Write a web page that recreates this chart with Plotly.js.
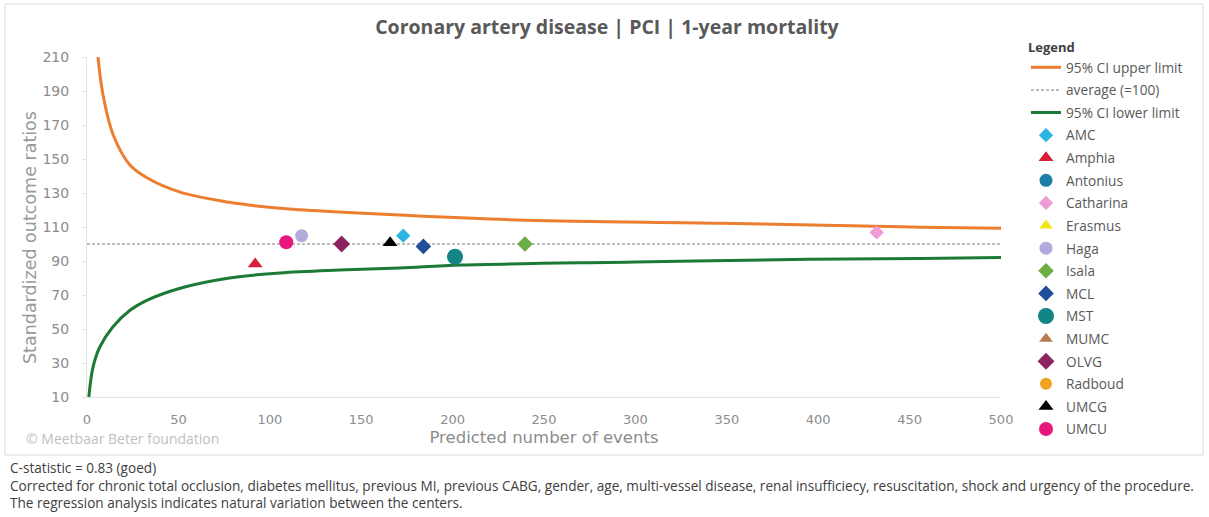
<!DOCTYPE html>
<html>
<head>
<meta charset="utf-8">
<script src="https://cdn.plot.ly/plotly-3.0.1.min.js"></script>
<style>
html,body{margin:0;padding:0;background:#fff;}
#chart{width:1209px;height:517px;}
</style>
</head>
<body>
<div id="chart"></div>
<script>
// ---- data ----
const upperX = [6, 8.8, 14.4, 23.5, 32.8, 51, 78, 105.6, 138, 171, 240, 347, 431, 456, 500];
const upperY = [210, 187.5, 164, 146.5, 139, 130.5, 124.5, 121, 118.8, 117, 114, 112.2, 110.4, 109.9, 109.3];
const lowerX = [1, 3.3, 7, 14, 23.5, 33, 51, 78, 105.6, 138, 171, 205, 300, 395, 456, 500];
const lowerY = [10, 27.6, 39.4, 51, 61, 67, 74, 80, 83, 84.7, 85.9, 87.6, 89.4, 91, 91.4, 92];
const averageX = [0, 500];
const averageY = [100, 100];

const centers = ["AMC","Amphia","Antonius","Catharina","Erasmus","Haga","Isala","MCL","MST","MUMC","OLVG","Radboud","UMCG","UMCU"];
const centerX  = [173, 92, null, 432, null, 117.4, 239.6, 184, 201.3, null, 139.3, null, 165.8, 109];
const centerY  = [104.9, 88.2, null, 106.8, null, 104.9, 100, 98.6, 92.5, null, 100, null, 100.8, 101];

const xTicks = [0,50,100,150,200,250,300,350,400,450,500];
const yTicks = [10,30,50,70,90,110,130,150,170,190,210];

const footnotes = [
  "C-statistic = 0.83 (goed)",
  "Corrected for chronic total occlusion, diabetes mellitus, previous MI, previous CABG, gender, age, multi-vessel disease, renal insufficiecy, resuscitation, shock and urgency of the procedure.",
  "The regression analysis indicates natural variation between the centers."
];

// ---- styles ----
const centerStyle = {
  AMC:      {color:"#2bb5e3", symbol:"diamond",     size:11},
  Amphia:   {color:"#d81f3a", symbol:"triangle-up", size:13},
  Antonius: {color:"#1d7fa6", symbol:"circle",      size:13},
  Catharina:{color:"#f09ad6", symbol:"diamond",     size:11},
  Erasmus:  {color:"#f2e51b", symbol:"triangle-up", size:12},
  Haga:     {color:"#b3a9dc", symbol:"circle",      size:13},
  Isala:    {color:"#6aae45", symbol:"diamond",     size:12},
  MCL:      {color:"#1f4e9a", symbol:"diamond",     size:12},
  MST:      {color:"#138585", symbol:"circle",      size:16},
  MUMC:     {color:"#b97a50", symbol:"triangle-up", size:12},
  OLVG:     {color:"#8c2461", symbol:"diamond",     size:13},
  Radboud:  {color:"#f0a323", symbol:"circle",      size:12},
  UMCG:     {color:"#000000", symbol:"triangle-up", size:13},
  UMCU:     {color:"#e8177e", symbol:"circle",      size:14}
};

const traces = [
  {x:upperX, y:upperY, mode:"lines", name:"95% CI upper limit", legendgroup:"g1",
   line:{color:"#ed7d31", width:3, shape:"spline", smoothing:1}, hoverinfo:"skip"},
  {x:averageX, y:averageY, mode:"lines", name:"average (=100)", legendgroup:"g2",
   line:{color:"#a6a6a6", width:1.5, dash:"3px,2px"}, hoverinfo:"skip"},
  {x:lowerX, y:lowerY, mode:"lines", name:"95% CI lower limit", legendgroup:"g3",
   line:{color:"#1c7a36", width:3, shape:"spline", smoothing:1}, hoverinfo:"skip"}
];
centers.forEach((c,i)=>{
  const s = centerStyle[c];
  traces.push({
    x:[centerX[i]], y:[centerY[i]], mode:"markers", name:c, legendgroup:"c"+i,
    marker:{color:s.color, symbol:s.symbol, size:s.size, line:{width:0}}
  });
});

// pixel helpers for annotations/shapes (plot area: x 87..1001, y 57..397)
const L=87, R=1001, T=57, B=397;
const px = v => (v-L)/(R-L);
const py = v => (B-v)/(B-T);

const OS = "'Open Sans', Lato, sans-serif";
const DV = "'DejaVu Sans', sans-serif";
const grey = "#7f7f7f";
const layout = {
  width:1209, height:517,
  margin:{l:L, r:1209-R, t:T, b:517-B, pad:0},
  paper_bgcolor:"#ffffff", plot_bgcolor:"#ffffff",
  font:{family:OS, color:grey},
  showlegend:true,
  title:{text:"Coronary artery disease | PCI | 1-year mortality",
         font:{family:OS, size:19.5, color:"#595959", weight:"bold"},
         x:0.502, xanchor:"center", y:1-27/517, yanchor:"middle"},
  xaxis:{range:[0,500], tickvals:xTicks, ticktext:xTicks.map(String),
         showgrid:false, zeroline:false, showline:true, linecolor:"#e3e3e3", linewidth:1,
         ticks:"", tickfont:{size:13, color:"#8c8c8c", family:DV},
         ticklabelstandoff:10,
         title:{text:"Predicted number of events", font:{size:16.5, color:"#8c8c8c", family:DV}, standoff:5}},
  yaxis:{range:[10,210], tickvals:yTicks, ticktext:yTicks.map(String),
         showgrid:false, zeroline:false, showline:true, linecolor:"#e3e3e3", linewidth:1,
         ticks:"outside", ticklen:4, tickcolor:"#e6e6e6", ticklabelstandoff:10,
         tickfont:{size:14, color:"#8c8c8c", family:DV}},
  legend:{x:px(1026), y:py(35), xanchor:"left", yanchor:"top", maxheight:480,
          bgcolor:"rgba(0,0,0,0)", borderwidth:0, tracegroupgap:1.8,
          font:{size:13.7, color:"#595959", family:OS},
          title:{text:"Legend", font:{size:13, color:"#404040", weight:"bold", family:OS}},
          itemwidth:30},
  shapes:[
    {type:"rect", xref:"paper", yref:"paper", x0:px(5), x1:px(1203), y0:py(455), y1:py(4),
     line:{color:"#d9d9d9", width:1}, fillcolor:"rgba(0,0,0,0)", layer:"below"}
  ],
  annotations:[
    {text:"Standardized outcome ratios", xref:"paper", yref:"paper", x:px(30), y:py(238),
     xanchor:"center", yanchor:"middle", textangle:-90, showarrow:false,
     font:{size:17.5, color:"#9a9a9a", family:DV}},
    {text:"© Meetbaar Beter foundation", xref:"paper", yref:"paper", x:px(24), y:py(438),
     xanchor:"left", yanchor:"middle", showarrow:false, font:{size:14, color:"#bfbfbf", family:OS}},
    {text:footnotes.join("<br>"), xref:"paper", yref:"paper", x:px(8), y:py(485),
     xanchor:"left", yanchor:"middle", align:"left", showarrow:false,
     font:{size:13.6, color:"#404040", family:OS}}
  ]
};

Plotly.newPlot("chart", traces, layout, {displayModeBar:false, staticPlot:true});
</script>
</body>
</html>
